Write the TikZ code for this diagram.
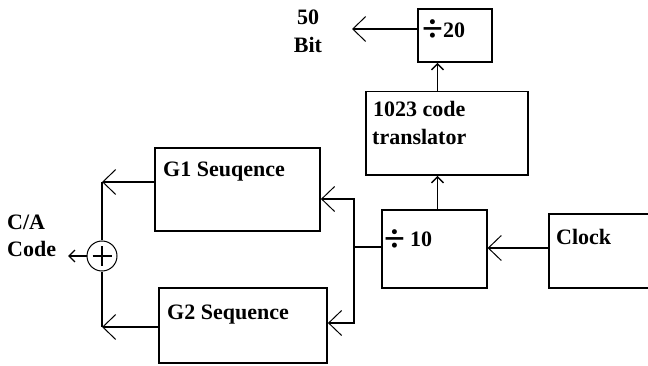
\documentclass[tikz,border=0pt]{standalone}
\usepackage{fontspec}
\setmainfont{Liberation Serif}
\usetikzlibrary{arrows.meta}
\begin{document}
\begin{tikzpicture}[x=1pt,y=-1pt,
 box/.style={draw,line width=1.8pt,inner sep=0pt},
 lbl/.style={font=\fontsize{22}{24}\selectfont\bfseries,inner sep=0pt,anchor=base west},
 divsign/.style={font=\fontsize{38}{38}\selectfont\bfseries,inner sep=0pt,anchor=center},
 ln/.style={line width=1.8pt},
 arr/.style={ln,-{Straight Barb[length=13pt,width=25pt,line width=1pt]}},
 sarr/.style={ln,-{Straight Barb[length=6pt,width=12pt,line width=1.4pt]}},
]
\useasboundingbox (0,0) rectangle (648,366);
% boxes
\node[box,minimum width=74.6pt,minimum height=53pt] (div20) at (455,35.5) {};
\node[box,minimum width=161.7pt,minimum height=83.5pt] (trans) at (446.8,133.2) {};
\node[box,minimum width=165pt,minimum height=83pt] (G1) at (237.5,189.5) {};
\node[box,minimum width=168pt,minimum height=75pt] (G2) at (243,325.5) {};
\node[box,minimum width=105pt,minimum height=78pt] (div10) at (434.2,249) {};
\node[box,minimum width=111pt,minimum height=74pt] (clock) at (604.5,251) {};
\node[draw,circle,line width=1pt,minimum size=30pt,inner sep=0pt] (xor) at (102,256) {};
\draw[line width=2.6pt] ([xshift=-9.5pt]xor.center) -- ([xshift=9.5pt]xor.center);
\draw[line width=2.6pt] ([yshift=-9.5pt]xor.center) -- ([yshift=9.5pt]xor.center);
% texts
\node[lbl,anchor=base] (t50) at (308,25) {50};
\node[lbl,anchor=base] (tbit) at (308,53) {Bit};
\node[divsign] (d20) at (433,31) {÷};
\node[lbl] (t20) at (443,38) {20};
\node[lbl] (t1023) at (373,117) {1023 code};
\node[lbl] (ttr) at (372,145) {translator};
\node[lbl] (tg1) at (163,177) {G1 Seuqence};
\node[lbl] (tg2) at (167,319.5) {G2 Sequence};
\node[divsign] (d10) at (395,241) {÷};
\node[lbl] (t10) at (410,247) {10};
\node[lbl] (tclk) at (556,245) {Clock};
\node[lbl] (tca) at (7,230) {C/A};
\node[lbl] (tcode) at (7,256.5) {Code};
% coordinates
\coordinate (bitend) at (352,29);
\coordinate (vx) at (437.5,0);
\coordinate (hy) at (0,248);
\coordinate (jn) at (354,247);
\coordinate (g1y) at (0,199);
\coordinate (g2y) at (0,323);
\coordinate (c1) at (102,182);
\coordinate (c2) at (102,327);
\coordinate (caend) at (68,256);
% connectors
\draw[arr] (div20.west |- bitend) -- (bitend);
\draw[sarr] (trans.north -| vx) -- (div20.south -| vx);
\draw[sarr] (div10.north -| vx) -- (trans.south -| vx);
\draw[arr] (clock.west |- hy) -- (div10.east |- hy);
\draw[ln] (div10.west |- jn) -- (jn);
\draw[arr] (jn) |- (G1.east |- g1y);
\draw[arr] (jn) |- (G2.east |- g2y);
\draw[arr] (G1.west |- c1) -- (c1);
\draw[ln] (c1) -- (xor.north);
\draw[arr] (G2.west |- c2) -- (c2);
\draw[ln] (c2) -- (xor.south);
\draw[sarr] (xor.west) -- (caend);
\end{tikzpicture}
\end{document}
